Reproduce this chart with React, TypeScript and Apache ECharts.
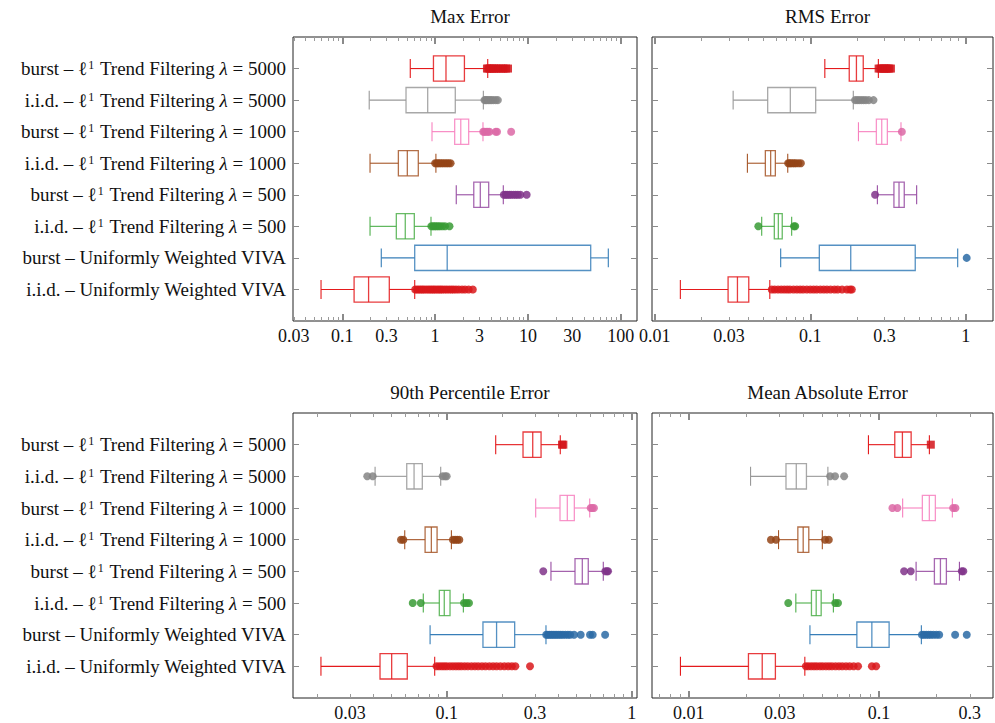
import React, { useEffect, useRef } from 'react';
import * as echarts from 'echarts';

const FONT = '"Liberation Serif", "DejaVu Serif", serif';
const TEXT_COLOR = '#111';

// Rows, top to bottom
const noiseTypes = ['burst', 'i.i.d.', 'burst', 'i.i.d.', 'burst', 'i.i.d.', 'burst', 'i.i.d.'];
const lambdas = [5000, 5000, 1000, 1000, 500, 500, 0, 0];
const boxColors = ['#e41a1c', '#999999', '#f781bf', '#a65628', '#984ea3', '#4daf4a', '#377eb8', '#e41a1c'];
const dotColors = ['#d3141a', '#858585', '#dc68a6', '#944416', '#803489', '#389b35', '#2a6aa4', '#d9171b'];

const panelTitles = ['Max Error', 'RMS Error', '90th Percentile Error', 'Mean Absolute Error'];

// [lower whisker, Q1, median, Q3, upper whisker]
const maxErrorBoxes = [
  [0.54, 0.96, 1.31, 2.07, 3.69],
  [0.195, 0.486, 0.832, 1.65, 3.31],
  [0.926, 1.625, 1.89, 2.3, 3.28],
  [0.199, 0.402, 0.502, 0.659, 1.02],
  [1.69, 2.61, 3.07, 3.78, 5.43],
  [0.199, 0.382, 0.477, 0.597, 0.903],
  [0.263, 0.603, 1.35, 47.5, 73.5],
  [0.059, 0.134, 0.192, 0.321, 0.603],
];
const maxErrorOutliers = [
  [3.62, 3.75, 3.9, 4.1, 4.3, 4.55, 4.8, 5.1, 5.45, 5.8, 6.1],
  [3.4, 3.5, 3.6, 3.75, 3.9, 4.05, 4.25, 4.5, 4.75],
  [3.3, 3.4, 3.55, 3.7, 3.85, 4.5, 4.65, 6.6],
  [1.0, 1.04, 1.08, 1.12, 1.17, 1.22, 1.28, 1.34, 1.4, 1.47],
  [5.5, 5.75, 6.0, 6.3, 6.6, 7.0, 7.4, 7.8, 8.3, 9.7],
  [0.91, 0.95, 0.99, 1.03, 1.08, 1.13, 1.2, 1.28, 1.43],
  [],
  [0.61, 0.64, 0.67, 0.7, 0.73, 0.76, 0.8, 0.84, 0.88, 0.92, 0.96, 1.0, 1.05, 1.1, 1.15, 1.2, 1.27, 1.34, 1.42, 1.5, 1.58, 1.68, 1.8, 1.95, 2.1, 2.3, 2.55],
];

const rmsErrorBoxes = [
  [0.124, 0.178, 0.198, 0.219, 0.274],
  [0.0319, 0.0532, 0.0744, 0.1083, 0.189],
  [0.204, 0.266, 0.288, 0.313, 0.383],
  [0.0394, 0.0514, 0.0556, 0.0596, 0.0716],
  [0.27, 0.345, 0.372, 0.402, 0.483],
  [0.0487, 0.0587, 0.0623, 0.066, 0.0759],
  [0.0645, 0.1143, 0.182, 0.473, 0.887],
  [0.0146, 0.0296, 0.034, 0.0402, 0.0549],
];
const rmsErrorOutliers = [
  [0.275, 0.283, 0.29, 0.298, 0.306, 0.314, 0.322, 0.33],
  [0.194, 0.2, 0.206, 0.213, 0.22, 0.228, 0.238, 0.255],
  [0.388],
  [0.072, 0.0735, 0.075, 0.077, 0.079, 0.081, 0.084, 0.087],
  [0.261],
  [0.0463, 0.0785, 0.08],
  [1.013],
  [0.0565, 0.059, 0.062, 0.065, 0.068, 0.071, 0.074, 0.078, 0.082, 0.086, 0.09, 0.095, 0.1, 0.105, 0.11, 0.116, 0.122, 0.128, 0.135, 0.143, 0.15, 0.16, 0.172, 0.18, 0.185],
];

const p90ErrorBoxes = [
  [0.184, 0.2585, 0.2917, 0.3236, 0.411],
  [0.041, 0.0608, 0.0666, 0.0738, 0.0928],
  [0.3027, 0.4096, 0.4487, 0.4896, 0.593],
  [0.0593, 0.0764, 0.0826, 0.0887, 0.106],
  [0.366, 0.4937, 0.5407, 0.5823, 0.702],
  [0.0747, 0.0912, 0.097, 0.1042, 0.123],
  [0.0813, 0.157, 0.186, 0.233, 0.344],
  [0.0209, 0.0436, 0.0504, 0.0612, 0.0861],
];
const p90ErrorOutliers = [
  [0.42, 0.427],
  [0.0372, 0.0398, 0.095, 0.098, 0.1],
  [0.6, 0.612, 0.625],
  [0.0566, 0.0583, 0.108, 0.111, 0.114, 0.117],
  [0.3326, 0.72, 0.735, 0.745],
  [0.0655, 0.0724, 0.124, 0.128, 0.132],
  [0.345, 0.352, 0.36, 0.368, 0.376, 0.385, 0.394, 0.404, 0.414, 0.425, 0.438, 0.452, 0.465, 0.488, 0.53, 0.595, 0.615, 0.718],
  [0.088, 0.091, 0.094, 0.097, 0.1, 0.104, 0.108, 0.112, 0.116, 0.12, 0.125, 0.13, 0.136, 0.142, 0.148, 0.155, 0.162, 0.17, 0.178, 0.186, 0.195, 0.205, 0.215, 0.225, 0.235, 0.282],
];

const maeErrorBoxes = [
  [0.0879, 0.1209, 0.1326, 0.1474, 0.1838],
  [0.0211, 0.0324, 0.0367, 0.0415, 0.0538],
  [0.133, 0.1688, 0.1837, 0.1976, 0.2427],
  [0.0296, 0.0374, 0.0399, 0.0427, 0.0503],
  [0.1565, 0.1953, 0.2101, 0.2258, 0.2644],
  [0.0365, 0.0441, 0.0467, 0.0496, 0.0575],
  [0.0433, 0.0764, 0.0916, 0.1129, 0.1668],
  [0.00903, 0.02057, 0.0243, 0.0285, 0.0407],
];
const maeErrorOutliers = [
  [0.187],
  [0.0553, 0.0587, 0.0655],
  [0.1175, 0.1248, 0.245, 0.252],
  [0.027, 0.0287, 0.052, 0.0544],
  [0.1353, 0.1467, 0.272, 0.2773],
  [0.0333, 0.0588, 0.0608],
  [0.168, 0.172, 0.177, 0.182, 0.187, 0.193, 0.2, 0.207, 0.251, 0.289],
  [0.0412, 0.0425, 0.044, 0.0455, 0.047, 0.0488, 0.0505, 0.0525, 0.0545, 0.0565, 0.059, 0.0615, 0.064, 0.067, 0.07, 0.0735, 0.0775, 0.0916, 0.0965],
];

// Tick labels and axis extents (raw values, plotted on a log10 scale)
const maxErrorTicks = [0.03, 0.1, 0.3, 1, 3, 10, 30, 100];
const rmsErrorTicks = [0.01, 0.03, 0.1, 0.3, 1];
const p90ErrorTicks = [0.03, 0.1, 0.3, 1];
const maeErrorTicks = [0.01, 0.03, 0.1, 0.3];
const maxErrorRange = [0.02943, 149.8];
const rmsErrorRange = [0.009594, 1.496];
const p90ErrorRange = [0.01476, 1.068];
const maeErrorRange = [0.0064, 0.397];

const panels = [
  { boxes: maxErrorBoxes, outliers: maxErrorOutliers, ticks: maxErrorTicks, range: maxErrorRange, rect: [293, 37, 344, 284], labels: true },
  { boxes: rmsErrorBoxes, outliers: rmsErrorOutliers, ticks: rmsErrorTicks, range: rmsErrorRange, rect: [652, 37, 341, 284], labels: false },
  { boxes: p90ErrorBoxes, outliers: p90ErrorOutliers, ticks: p90ErrorTicks, range: p90ErrorRange, rect: [293, 413, 344, 285], labels: true },
  { boxes: maeErrorBoxes, outliers: maeErrorOutliers, ticks: maeErrorTicks, range: maeErrorRange, rect: [652, 413, 341, 285], labels: false },
];

const lg = (v: number) => Math.log10(v);

function decadeTicks(lo: number, hi: number) {
  const out: number[] = [];
  for (let d = Math.floor(lo); d <= Math.ceil(hi); d++) if (d >= lo && d <= hi) out.push(d);
  return out;
}
function minorTicks(lo: number, hi: number) {
  const out: number[] = [];
  for (let d = Math.floor(lo); d <= Math.ceil(hi); d++) {
    for (let m = 2; m <= 9; m++) {
      const v = d + Math.log10(m);
      if (v > lo && v < hi) out.push(v);
    }
  }
  return out;
}

function rowLabel(v: number) {
  const i = Math.round(v) - 1;
  if (i < 0 || i >= noiseTypes.length) return '';
  if (lambdas[i]) return `${noiseTypes[i]} – ℓ{sup|1} Trend Filtering {it|λ} = ${lambdas[i]}`;
  return `${noiseTypes[i]} – Uniformly Weighted VIVA`;
}

function buildOption() {
  const grid: any[] = [];
  const xAxis: any[] = [];
  const yAxis: any[] = [];
  const series: any[] = [];
  const title: any[] = [];
  const rows = [1, 2, 3, 4, 5, 6, 7, 8];

  panels.forEach((p, k) => {
    const [left, top, width, height] = p.rect;
    grid.push({ left, top, width, height, show: true, borderColor: '#222', borderWidth: 1, backgroundColor: 'transparent' });
    title.push({
      text: panelTitles[k],
      left: left + width / 2,
      top: top - 35,
      textAlign: 'center',
      textStyle: { fontFamily: FONT, fontSize: 19, fontWeight: 'normal', color: TEXT_COLOR },
    });
    const lo = lg(p.range[0]);
    const hi = lg(p.range[1]);
    const majors = decadeTicks(lo, hi);
    const minors = minorTicks(lo, hi);
    const base = { gridIndex: k, type: 'value', min: lo, max: hi, splitLine: { show: false }, axisLine: { show: false, onZero: false } };
    const majorTick = { show: true, inside: true, length: 7, customValues: majors, lineStyle: { color: '#8a8a8a', width: 2 } };
    const minorTick = { show: true, inside: true, length: 4, customValues: minors, lineStyle: { color: '#9a9a9a', width: 1 } };
    xAxis.push({
      ...base,
      position: 'bottom',
      axisTick: majorTick,
      axisLabel: {
        customValues: p.ticks.map(lg),
        margin: 6,
        fontFamily: FONT,
        fontSize: 18,
        color: TEXT_COLOR,
        formatter: (v: number) => String(parseFloat(Math.pow(10, v).toPrecision(6))),
      },
    });
    xAxis.push({ ...base, position: 'bottom', axisTick: minorTick, axisLabel: { show: false } });
    xAxis.push({ ...base, position: 'top', axisTick: majorTick, axisLabel: { show: false } });
    xAxis.push({ ...base, position: 'top', axisTick: minorTick, axisLabel: { show: false } });

    const yBase = { gridIndex: k, type: 'value', min: 0, max: 9, inverse: true, splitLine: { show: false }, axisLine: { show: false, onZero: false } };
    const yTick = { show: true, inside: true, length: 6, customValues: rows, lineStyle: { color: '#8a8a8a', width: 1 } };
    yAxis.push({
      ...yBase,
      position: 'left',
      axisTick: yTick,
      axisLabel: p.labels
        ? {
            customValues: rows,
            margin: 7,
            fontFamily: FONT,
            fontSize: 19,
            color: TEXT_COLOR,
            formatter: rowLabel,
            rich: {
              sup: { fontFamily: FONT, fontSize: 12, color: TEXT_COLOR, verticalAlign: 'top', lineHeight: 7, padding: [0, 1, 0, 1] },
              it: { fontFamily: FONT, fontSize: 19, fontStyle: 'italic', color: TEXT_COLOR },
            },
          }
        : { show: false },
    });
    yAxis.push({ ...yBase, position: 'right', axisTick: yTick, axisLabel: { show: false } });

    series.push({
      type: 'custom',
      xAxisIndex: k * 4,
      yAxisIndex: k * 2,
      encode: { x: [1, 2, 3, 4, 5], y: 0 },
      data: p.boxes.map((b, i) => [i + 1, ...b.map(lg)]),
      z: 2,
      renderItem: (params: any, api: any) => {
        const row = api.value(0);
        const pts = [1, 2, 3, 4, 5].map((d) => api.coord([api.value(d), row]));
        const y = pts[0][1];
        const boxH = Math.abs(api.size([0, 0.8])[1]);
        const capH = Math.abs(api.size([0, 0.6])[1]);
        const c = boxColors[row - 1];
        const ls = { stroke: c, lineWidth: 1.1, fill: null };
        const bs = { stroke: c, lineWidth: 1.3, fill: null, opacity: 0.85 };
        return {
          type: 'group',
          children: [
            { type: 'line', shape: { x1: pts[0][0], y1: y, x2: pts[1][0], y2: y }, style: ls },
            { type: 'line', shape: { x1: pts[3][0], y1: y, x2: pts[4][0], y2: y }, style: ls },
            { type: 'line', shape: { x1: pts[0][0], y1: y - capH / 2, x2: pts[0][0], y2: y + capH / 2 }, style: ls },
            { type: 'line', shape: { x1: pts[4][0], y1: y - capH / 2, x2: pts[4][0], y2: y + capH / 2 }, style: ls },
            { type: 'rect', shape: { x: pts[1][0], y: y - boxH / 2, width: pts[3][0] - pts[1][0], height: boxH }, style: bs },
            { type: 'line', shape: { x1: pts[2][0], y1: y - boxH / 2, x2: pts[2][0], y2: y + boxH / 2 }, style: bs },
          ],
        };
      },
    });

    const dots: number[][] = [];
    p.outliers.forEach((list, i) => list.forEach((v) => dots.push([lg(v), i + 1])));
    series.push({
      type: 'scatter',
      xAxisIndex: k * 4,
      yAxisIndex: k * 2,
      data: dots,
      z: 3,
      symbol: (val: number[]) => (val[1] === 1 ? 'rect' : 'circle'),
      symbolSize: 8,
      itemStyle: { color: (pp: any) => dotColors[pp.value[1] - 1], opacity: 0.85 },
    });
  });

  return { animation: false, backgroundColor: '#fff', title, grid, xAxis, yAxis, series };
}

export default function App() {
  const ref = useRef<HTMLDivElement>(null);
  useEffect(() => {
    if (!ref.current) return;
    const chart = echarts.init(ref.current, undefined, { renderer: 'svg' });
    chart.setOption(buildOption() as any);
    return () => chart.dispose();
  }, []);
  return <div ref={ref} style={{ position: 'fixed', left: 0, top: 0, width: 995, height: 723, background: '#fff' }} />;
}
